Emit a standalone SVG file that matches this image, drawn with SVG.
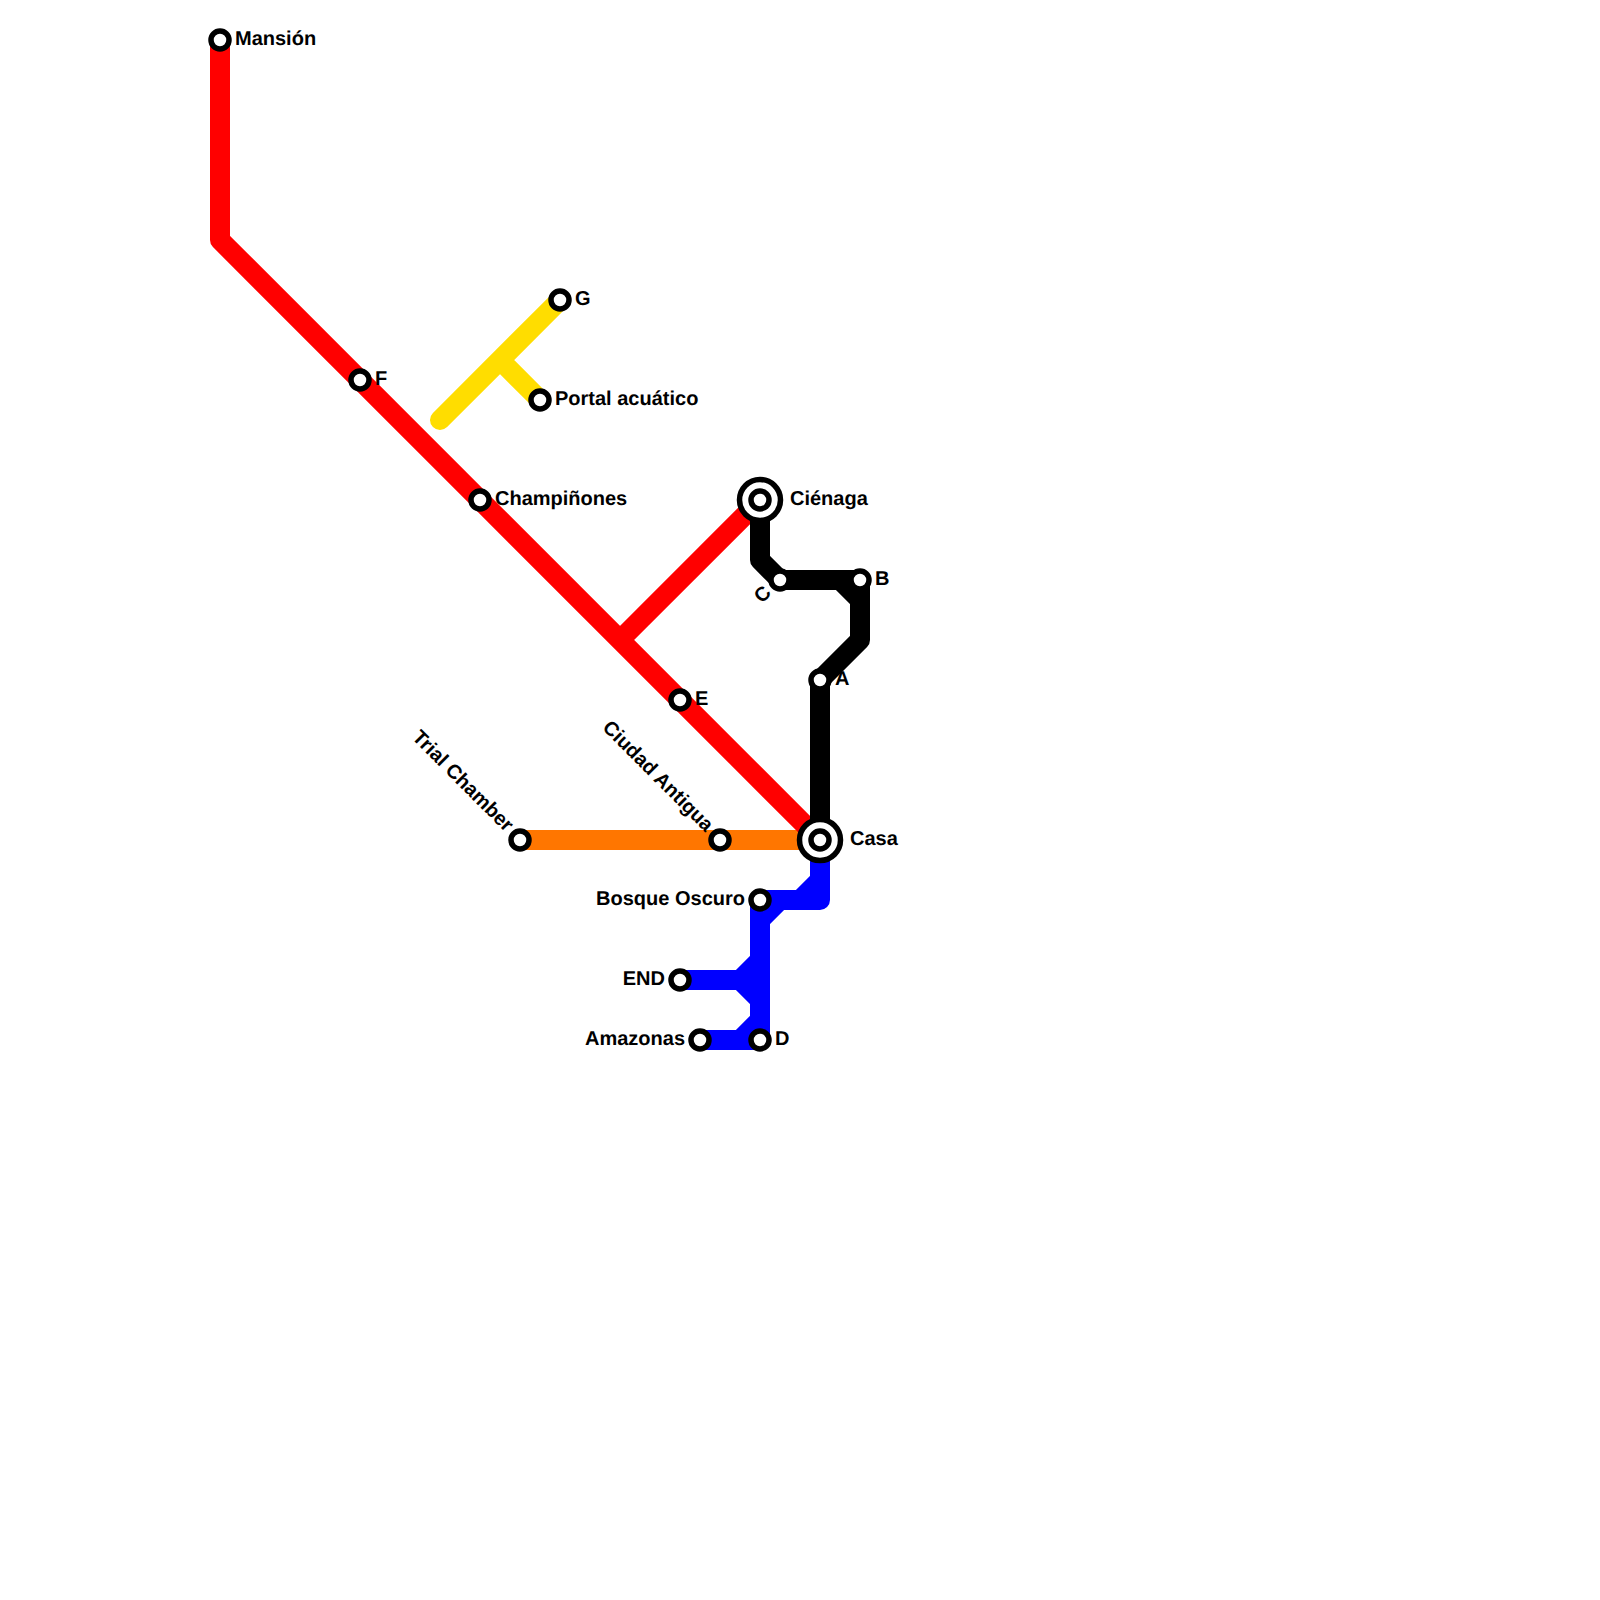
<svg xmlns="http://www.w3.org/2000/svg" width="1600" height="1600" viewBox="0 0 1600 1600">
<style>
.l{fill:none;stroke-width:20;stroke-linecap:round;stroke-linejoin:round}
.s{fill:#fff;stroke:#000;stroke-width:5.5}
text{font-family:"Liberation Sans",Arial,sans-serif;font-weight:bold;font-size:20px;fill:#000;text-rendering:geometricPrecision}
.e{text-anchor:end}
</style>
<rect width="1600" height="1600" fill="#fff"/>
<g id="connectors">
<path class="l" stroke="#ff7600" d="M520 840H820"/>
<path class="l" stroke="#ff0000" d="M220 40V240L820 840M620 640L760 500"/>
<path class="l" stroke="#ffdd00" d="M440 420L560 300M500 360L540 400"/>
<path class="l" stroke="#000" d="M820 840V680L860 640V600L840 580H780L760 560V500M860 640V580H840"/>
<path class="l" stroke="#0000ff" d="M820 840V880L800 900H760M820 880V900H780L760 920M760 900V1040H700M760 960L740 980H680M740 980L760 1000M760 1020L740 1040"/>
</g>
<g id="mansion"><circle class="s" cx="220" cy="40" r="9"/><text x="235" y="45">Mansión</text></g>
<g id="f"><circle class="s" cx="360" cy="380" r="9"/><text x="375" y="385">F</text></g>
<g id="g"><circle class="s" cx="560" cy="300" r="9"/><text x="575" y="305">G</text></g>
<g id="portal"><circle class="s" cx="540" cy="400" r="9"/><text x="555" y="405">Portal acuático</text></g>
<g id="champinones"><circle class="s" cx="480" cy="500" r="9"/><text x="495" y="505">Champiñones</text></g>
<g id="cienaga"><circle class="s" cx="760" cy="500" r="20.5"/><circle class="s" cx="760" cy="500" r="9"/><text x="790" y="505">Ciénaga</text></g>
<g id="c"><circle class="s" cx="780" cy="580" r="9"/><text transform="translate(762 604) rotate(-45)">C</text></g>
<g id="b"><circle class="s" cx="860" cy="580" r="9"/><text x="875" y="585">B</text></g>
<g id="a"><circle class="s" cx="820" cy="680" r="9"/><text x="835" y="685">A</text></g>
<g id="e"><circle class="s" cx="680" cy="700" r="9"/><text x="695" y="705">E</text></g>
<g id="trial"><circle class="s" cx="520" cy="840" r="9"/><text class="e" transform="translate(509 829) rotate(45)" x="0" y="5">Trial Chamber</text></g>
<g id="ciudad"><circle class="s" cx="720" cy="840" r="9"/><text class="e" transform="translate(709 829) rotate(45)" x="0" y="5">Ciudad Antigua</text></g>
<g id="casa"><circle class="s" cx="820" cy="840" r="20.5"/><circle class="s" cx="820" cy="840" r="9"/><text x="850" y="845">Casa</text></g>
<g id="bosque"><circle class="s" cx="760" cy="900" r="9"/><text class="e" x="745" y="905">Bosque Oscuro</text></g>
<g id="end"><circle class="s" cx="680" cy="980" r="9"/><text class="e" x="665" y="985">END</text></g>
<g id="amazonas"><circle class="s" cx="700" cy="1040" r="9"/><text class="e" x="685" y="1045">Amazonas</text></g>
<g id="d"><circle class="s" cx="760" cy="1040" r="9"/><text x="775" y="1045">D</text></g>
</svg>
